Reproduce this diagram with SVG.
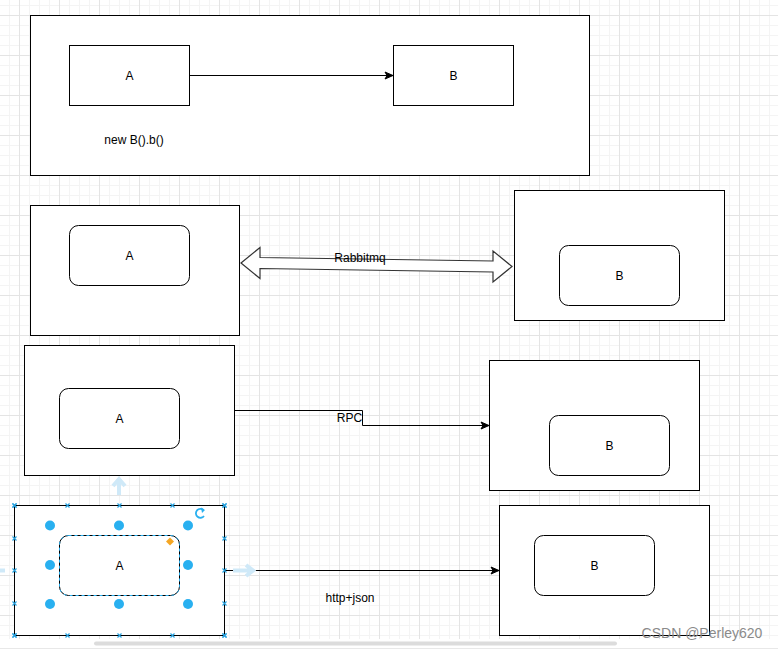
<svg xmlns="http://www.w3.org/2000/svg" width="778" height="651" viewBox="0 0 778 651">
<defs>
<pattern id="minor" patternUnits="userSpaceOnUse" x="9" y="5" width="10" height="10">
<path d="M0.5 0V10M0 0.5H10" stroke="#f4f4f4" stroke-width="1" fill="none"/>
</pattern>
<pattern id="major" patternUnits="userSpaceOnUse" x="19" y="15" width="40" height="40">
<path d="M0.5 0V40M0 0.5H40" stroke="#e4e4e4" stroke-width="1" fill="none"/>
</pattern>
<marker id="arr" markerWidth="10" markerHeight="10" refX="9" refY="5" orient="auto" markerUnits="userSpaceOnUse">
<path d="M1 1.5L9 5L1 8.5L3 5Z" fill="#000" stroke="#000" stroke-width="1"/>
</marker>
<marker id="xm" markerWidth="7" markerHeight="7" refX="3.5" refY="3.5" markerUnits="userSpaceOnUse">
<path d="M1.5 1.5L5.5 5.5M5.5 1.5L1.5 5.5" stroke="#29a3e0" stroke-width="1.2"/>
</marker>
</defs>
<style>
.box{fill:#fff;stroke:#000;stroke-width:1}
.rbox{fill:#fff;stroke:#000;stroke-width:1}
.t{font-family:"Liberation Sans",Arial,sans-serif;font-size:12px;fill:#000;text-anchor:middle}
.edge{fill:none;stroke:#000;stroke-width:1}
.dot{fill:#29b0f0}
</style>
<rect width="778" height="651" fill="#fff"/>
<rect x="0" y="0" width="778" height="639" fill="url(#minor)"/>
<rect x="0" y="0" width="778" height="639" fill="url(#major)"/>
<rect x="94" y="641.5" width="523" height="4" rx="2" fill="#dcdcdc"/>
<line x1="0" y1="648.5" x2="778" y2="648.5" stroke="#e8e8e8"/>

<g id="node-outer1"><rect class="box" x="30.5" y="15.5" width="559" height="160"/><text class="t" x="134" y="144">new B().b()</text></g>
<g id="node-A1"><rect class="box" x="69.5" y="45.5" width="120" height="60"/><text class="t" x="129.5" y="79.5">A</text></g>
<g id="node-B1"><rect class="box" x="393.5" y="45.5" width="120" height="60"/><text class="t" x="453.5" y="79.5">B</text></g>

<g id="node-outer2"><rect class="box" x="30.5" y="205.5" width="209" height="130"/></g>
<g id="node-A2"><rect class="rbox" x="69.5" y="225.5" width="120" height="60" rx="9"/><text class="t" x="129.5" y="259.5">A</text></g>
<g id="node-outer3"><rect class="box" x="514.5" y="190.5" width="210" height="130"/></g>
<g id="node-B2"><rect class="rbox" x="559.5" y="245.5" width="120" height="60" rx="9"/><text class="t" x="619.5" y="279.5">B</text></g>

<g id="node-outer4"><rect class="box" x="24.5" y="345.5" width="210" height="130"/></g>
<g id="node-A3"><rect class="rbox" x="59.5" y="388.5" width="120" height="60" rx="9"/><text class="t" x="119.5" y="422.5">A</text></g>
<g id="node-outer5"><rect class="box" x="489.5" y="360.5" width="210" height="130"/></g>
<g id="node-B3"><rect class="rbox" x="549.5" y="415.5" width="120" height="60" rx="9"/><text class="t" x="609.5" y="449.5">B</text></g>

<g id="node-outer6"><rect class="box" x="14.5" y="505.5" width="210" height="130"/></g>
<g id="node-A4"><rect x="59.5" y="535.5" width="120" height="60" rx="9" fill="#fff" stroke="#000" stroke-width="1"/><rect x="59.5" y="535.5" width="120" height="60" rx="9" fill="none" stroke="#29b0f0" stroke-width="1" stroke-dasharray="3 3"/><text class="t" x="119.5" y="569.5">A</text></g>
<g id="node-outer7"><rect class="box" x="499.5" y="505.5" width="210" height="130"/></g>
<g id="node-B4"><rect class="rbox" x="534.5" y="535.5" width="120" height="60" rx="9"/><text class="t" x="594.5" y="569.5">B</text></g>

<g id="connectors">
<line class="edge" x1="189.5" y1="75.5" x2="393" y2="75.5" marker-end="url(#arr)"/>
<polygon points="241,263 260,247.5 260,257.5 493,261 493,251 512,266.5 493,282 493,272 260,268.5 260,278.5" fill="#fff" stroke="#333" stroke-width="1.2" stroke-linejoin="miter"/>
<text class="t" x="360" y="262">Rabbitmq</text>
<path class="edge" d="M234.5 410.5H362.5V425.5H489" marker-end="url(#arr)"/>
<text class="t" x="349.5" y="422">RPC</text>
<line class="edge" x1="224.5" y1="570.5" x2="499" y2="570.5" marker-end="url(#arr)"/>
<text class="t" x="350" y="602">http+json</text>
</g>

<g id="selection">
<path d="M119 495V481M113 486L119 479L125 486" stroke="#cfe9f8" stroke-width="4" fill="none"/>
<path d="M233 570.5H251M246 565L253 570.5L246 576" stroke="#cfe9f8" stroke-width="4" fill="none"/>
<path d="M0 570.5H5" stroke="#cfe9f8" stroke-width="4"/>
<path d="M14.5 505.5H67.5H119.5H172.5H224.5M14.5 635.5H67.5H119.5H172.5H224.5M14.5 505.5V538.5V570.5V603.5V635.5M224.5 505.5V538.5V570.5V603.5V635.5" fill="none" stroke="none" marker-start="url(#xm)" marker-mid="url(#xm)" marker-end="url(#xm)"/>
<circle class="dot" cx="50" cy="525.5" r="5"/>
<circle class="dot" cx="119" cy="525.5" r="5"/>
<circle class="dot" cx="188" cy="525.5" r="5"/>
<circle class="dot" cx="50" cy="565" r="5"/>
<circle class="dot" cx="188" cy="565" r="5"/>
<circle class="dot" cx="50" cy="604" r="5"/>
<circle class="dot" cx="119" cy="604" r="5"/>
<circle class="dot" cx="188" cy="604" r="5"/>
<path d="M170 537.5L174 541.5L170 545.5L166 541.5Z" fill="#f5a623"/>
<path d="M203.5 510A4.5 4.5 0 1 0 204 516" fill="none" stroke="#29b0f0" stroke-width="1.8"/>
<path d="M201 507.5L205 510L202 513Z" fill="#29b0f0"/>
</g>

<text x="702" y="638" font-family="Liberation Sans,Arial,sans-serif" font-size="14" fill="#8a8a8a" text-anchor="middle">CSDN @Perley620</text>
</svg>
